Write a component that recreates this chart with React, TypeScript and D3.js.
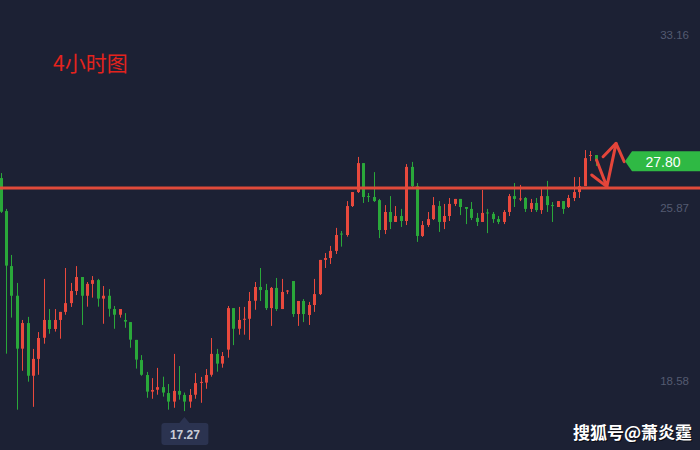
import React from "react";
import * as d3 from "d3";

const W = 700;
const H = 450;

// OHLC (candles 0..110)
const opens = [27.09,25.70,23.38,22.13,19.90,20.98,18.76,19.47,20.36,21.11,20.73,21.11,21.45,21.82,22.33,22.92,22.13,22.63,22.79,22.01,22.13,21.57,21.33,21.11,21.02,20.27,19.42,18.79,18.09,18.17,18.28,18.03,17.67,18.12,17.95,17.67,17.96,18.47,18.47,18.80,19.68,19.27,19.86,21.61,20.74,21.14,21.16,21.92,22.50,22.37,21.61,22.46,21.57,22.31,22.75,21.36,21.91,21.32,21.74,22.20,23.64,23.72,24.02,24.75,24.69,25.91,26.50,27.72,26.33,26.29,26.16,24.90,25.66,25.24,25.49,25.28,27.56,26.75,24.65,25.11,25.36,25.91,25.24,25.49,26.00,26.21,25.87,25.79,25.41,25.24,25.64,25.58,25.36,25.24,25.66,26.33,26.19,26.25,25.79,26.04,25.74,26.33,25.95,25.87,26.12,25.87,26.25,26.50,26.75,28.02,28.06];
const highs = [27.30,25.79,23.85,22.67,21.11,21.24,19.89,20.60,22.84,21.57,21.57,21.45,23.30,22.67,23.38,22.92,22.71,22.96,22.84,22.54,22.41,21.70,21.57,21.40,21.02,20.27,19.63,18.92,18.66,19.09,18.72,18.41,19.68,19.17,18.05,18.20,18.87,18.71,19.04,20.35,19.89,19.76,21.70,21.61,21.66,21.66,22.29,22.71,23.30,22.63,22.50,22.88,22.84,22.37,22.75,21.91,21.99,21.87,22.84,23.64,23.93,24.23,24.99,24.86,26.12,26.50,27.98,27.72,26.46,27.34,26.21,25.95,26.33,25.91,25.79,27.68,27.77,26.88,25.28,25.66,26.29,26.12,26.00,26.25,26.21,26.21,25.87,26.08,25.62,26.59,25.79,25.66,25.49,25.74,26.42,26.88,26.80,26.29,26.21,26.25,26.63,26.97,26.08,26.12,26.12,26.38,27.13,27.13,28.27,28.23,28.06];
const lows = [25.62,19.69,21.21,17.33,18.97,18.51,17.45,18.80,20.11,20.53,20.62,20.32,21.33,21.66,22.16,20.90,21.67,22.05,21.67,20.95,21.25,20.74,21.21,20.78,19.94,19.06,18.76,17.83,17.79,17.96,17.88,17.33,17.41,17.75,17.27,17.41,17.79,17.62,18.21,18.72,18.93,19.10,19.52,20.05,20.49,20.49,20.27,21.54,21.91,21.53,20.86,21.49,21.57,22.20,21.24,20.86,21.02,20.90,21.45,22.16,23.30,23.47,23.89,24.20,24.62,25.87,26.46,26.04,26.08,26.08,24.56,24.73,24.94,25.24,25.03,25.11,26.71,24.40,24.61,25.03,25.32,24.82,24.94,25.28,25.91,25.53,25.15,25.32,25.07,25.24,24.77,25.20,25.15,25.15,25.49,25.87,26.12,25.66,25.66,25.66,25.58,25.66,25.24,25.87,25.58,25.83,26.12,26.25,26.75,27.81,27.60];
const closes = [25.67,23.40,22.13,19.90,20.98,18.76,19.47,20.35,21.11,20.73,21.11,21.45,21.82,22.33,22.92,22.13,22.63,22.79,22.01,22.13,21.58,21.33,21.57,21.04,20.28,19.44,18.80,18.09,18.16,18.28,18.05,17.67,18.12,17.96,17.67,17.95,18.45,18.50,18.79,19.68,19.27,19.59,21.61,20.74,21.11,21.16,21.91,22.50,22.37,21.61,22.46,21.57,22.29,22.35,21.36,21.91,21.36,21.74,22.20,23.64,23.72,24.02,24.69,24.71,25.91,26.50,27.72,26.29,26.29,26.12,24.90,25.66,25.24,25.49,25.28,27.56,26.75,24.65,25.11,25.36,25.95,25.24,25.49,26.00,26.21,25.87,25.79,25.41,25.24,25.62,25.60,25.36,25.24,25.66,26.33,26.21,26.23,25.79,26.04,25.74,26.33,25.95,25.91,26.12,25.79,26.25,26.50,26.75,27.93,28.06,27.80];

const axisTicks = [33.16, 25.87, 18.58];
const levelPrice = 26.67;
const lastPrice = 27.80;
const titleText = "4小时图";
const watermark = "搜狐号@萧炎霆";

// hand-drawn arrow annotation, in (candle index, price) space
const arrowLines: [number, number][][] = [
  [[110.2, 27.85], [112.1, 26.73], [113.8, 28.55], [115.3, 27.78]],
  [[109.3, 27.22], [112.1, 26.73]],
  [[111.4, 27.99], [113.8, 28.55]],
];

const BG = "#1c2134";
const RED = "#e8493d";
const GREEN = "#2aa83a";

export default function App() {
  const n = opens.length;
  const x = d3.scaleLinear().domain([0, n - 1]).range([0.5, 595.5]);
  const y = d3.scaleLinear().domain([18.58, 33.16]).range([380, 34]);

  let minIdx = 0;
  lows.forEach((l, i) => { if (l < lows[minIdx]) minIdx = i; });
  const minX = x(minIdx);

  const line = d3.line<[number, number]>().x((d) => x(d[0])).y((d) => y(d[1]));

  const tagY = y(lastPrice);

  return (
    <svg width={W} height={H} style={{ position: "absolute", left: 0, top: 0, display: "block" }}>
      <rect x={0} y={0} width={W} height={H} fill={BG} />
      {opens.map((o, i) => {
        const c = closes[i];
        const up = c >= o;
        const col = up ? RED : GREEN;
        const cx = Math.round(x(i));
        const top = y(Math.max(o, c));
        const bot = y(Math.min(o, c));
        return (
          <g key={i}>
            <rect x={cx} y={y(highs[i])} width={1} height={y(lows[i]) - y(highs[i])} fill={col} />
            <rect x={cx - 1} y={top} width={3} height={Math.max(1, bot - top)} fill={col} />
          </g>
        );
      })}
      <rect x={0} y={y(levelPrice) - 1.5} width={W} height={3} fill="#e04a3a" />
      {arrowLines.map((pts, i) => (
        <path key={i} d={line(pts) || ""} fill="none" stroke="#e4453a" strokeWidth={3} strokeLinecap="round" strokeLinejoin="round" />
      ))}
      {axisTicks.map((t) => (
        <text key={t} x={689} y={y(t) + 4.5} textAnchor="end" fontFamily="Liberation Sans, Arial, sans-serif" fontSize={11.5} fill="#545b71">
          {t.toFixed(2)}
        </text>
      ))}
      <path
        d={`M625,${tagY} L632,${tagY - 10} L700,${tagY - 10} L700,${tagY + 10} L632,${tagY + 10} Z`}
        fill="#2fb944"
      />
      <text x={663} y={tagY + 5.5} textAnchor="middle" fontFamily="Liberation Sans, Arial, sans-serif" fontSize={14} fill="#ffffff">
        {lastPrice.toFixed(2)}
      </text>
      <text x={53} y={71} fontFamily="Noto Sans CJK SC, sans-serif" fontSize={21} fill="#e4231d">
        {titleText}
      </text>
      <path d={`M${minX},417 L${minX + 5.5},423.5 L${minX - 5.5},423.5 Z`} fill="#2b3350" />
      <rect x={minX - 23} y={423} width={47} height={22} rx={3} fill="#2b3350" />
      <text x={minX + 0.5} y={439} textAnchor="middle" fontFamily="Liberation Sans, Arial, sans-serif" fontSize={12} fontWeight="bold" fill="#c9cdd8">
        {lows[minIdx].toFixed(2)}
      </text>
      <text x={574} y={440} fontFamily="Noto Sans CJK SC, sans-serif" fontSize={17} fontWeight="bold" fill="#000000" opacity={0.6}>
        {watermark}
      </text>
      <text x={573} y={439} fontFamily="Noto Sans CJK SC, sans-serif" fontSize={17} fontWeight="bold" fill="#ffffff">
        {watermark}
      </text>
    </svg>
  );
}
